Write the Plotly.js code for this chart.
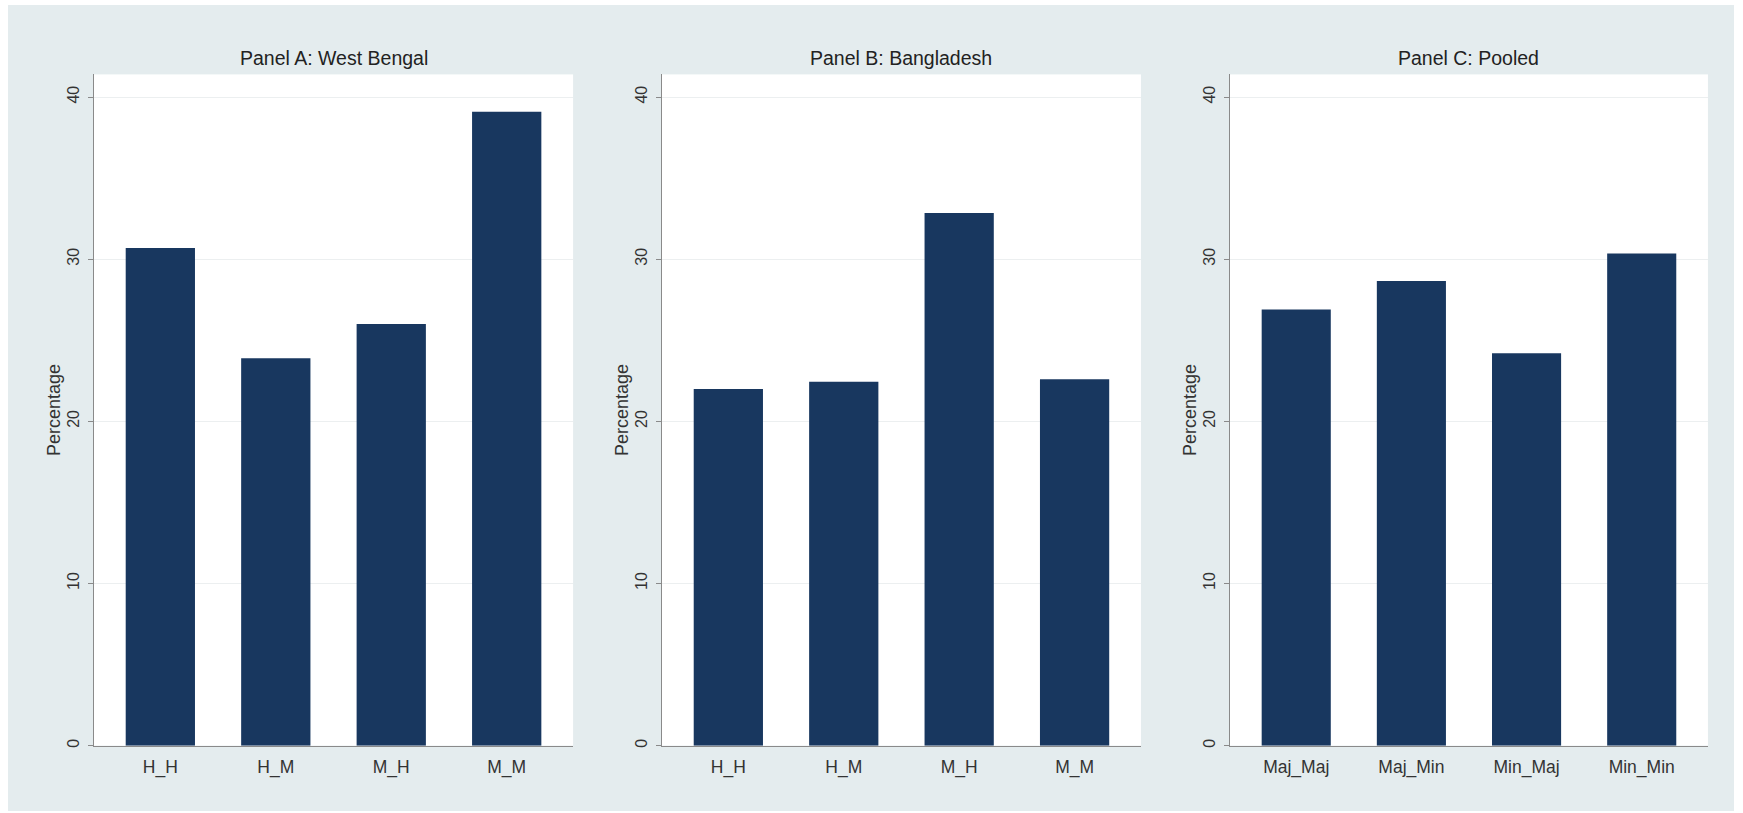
<!DOCTYPE html>
<html>
<head>
<meta charset="utf-8">
<script src="https://cdn.plot.ly/plotly-3.0.1.min.js"></script>
<style>
  html, body { margin: 0; padding: 0; background: #ffffff; }
  #chart { position: absolute; left: 8px; top: 5px; width: 1726px; height: 806px; }
</style>
</head>
<body>
<div id="chart"></div>
<script>
// ---- data ----
const panelTitles = ["Panel A: West Bengal", "Panel B: Bangladesh", "Panel C: Pooled"];
const catsA = ["H_H", "H_M", "M_H", "M_M"];
const catsB = ["H_H", "H_M", "M_H", "M_M"];
const catsC = ["Maj_Maj", "Maj_Min", "Min_Maj", "Min_Min"];
const valsA = [30.7, 23.9, 26.0, 39.1];
const valsB = [22.0, 22.45, 32.85, 22.6];
const valsC = [26.9, 28.65, 24.2, 30.35];
const yTickVals = [0, 10, 20, 30, 40];
const yTitle = "Percentage";

// ---- styling ----
const barColor = "#18375f";
const bgColor = "#e4ecee";
const font = "Liberation Sans, Arial, sans-serif";
const W = 1726;

const xDomains = [[0.0498, 0.3274], [0.3789, 0.6564], [0.7080, 0.9849]];
const yDomain = [0.0811, 0.9139];

const traces = [
  {x: catsA, y: valsA, xaxis: "x", yaxis: "y"},
  {x: catsB, y: valsB, xaxis: "x2", yaxis: "y2"},
  {x: catsC, y: valsC, xaxis: "x3", yaxis: "y3"}
].map(t => Object.assign(t, {
  type: "bar", width: 0.6, marker: {color: barColor, line: {width: 0}},
  hoverinfo: "x+y", showlegend: false
}));

const annotations = [];
panelTitles.forEach((t, i) => {
  annotations.push({
    text: t, xref: "paper", yref: "paper",
    x: (xDomains[i][0] + xDomains[i][1]) / 2, y: 0.9345,
    xanchor: "center", yanchor: "middle", showarrow: false,
    font: {family: font, size: 19.5, color: "#222222"}
  });
  // y-axis title for each panel
  annotations.push({
    text: yTitle, xref: "paper", yref: "paper", textangle: -90,
    x: xDomains[i][0] - 40 / W, y: (yDomain[0] + yDomain[1]) / 2,
    xanchor: "center", yanchor: "middle", showarrow: false,
    font: {family: font, size: 18, color: "#333333"}
  });
});

const layout = {
  width: W, height: 806,
  margin: {l: 0, r: 0, t: 0, b: 0},
  paper_bgcolor: bgColor,
  plot_bgcolor: "#ffffff",
  font: {family: font, size: 16, color: "#333333"},
  showlegend: false,
  annotations: annotations
};

for (let i = 0; i < 3; i++) {
  const s = i === 0 ? "" : String(i + 1);
  layout["xaxis" + s] = {
    domain: xDomains[i], anchor: "y" + s, type: "category",
    range: [-0.575, 3.575], showgrid: false, zeroline: false,
    showline: true, linecolor: "#8a8a8a", linewidth: 1,
    ticks: "", ticklabelstandoff: 5, automargin: false,
    tickfont: {family: font, size: 17.5, color: "#333333"}
  };
  layout["yaxis" + s] = {
    domain: yDomain, anchor: "x" + s,
    range: [0, 41.4], tickvals: yTickVals, tickangle: -90,
    showgrid: true, gridcolor: "#eceff0", gridwidth: 1, zeroline: false,
    showline: true, linecolor: "#8a8a8a", linewidth: 1,
    ticks: "outside", ticklen: 5, tickcolor: "#8a8a8a", tickwidth: 1,
    ticklabelstandoff: 3, automargin: false,
    tickfont: {family: font, size: 16, color: "#333333"}
  };
}

Plotly.newPlot("chart", traces, layout, {displayModeBar: false});
</script>
</body>
</html>
